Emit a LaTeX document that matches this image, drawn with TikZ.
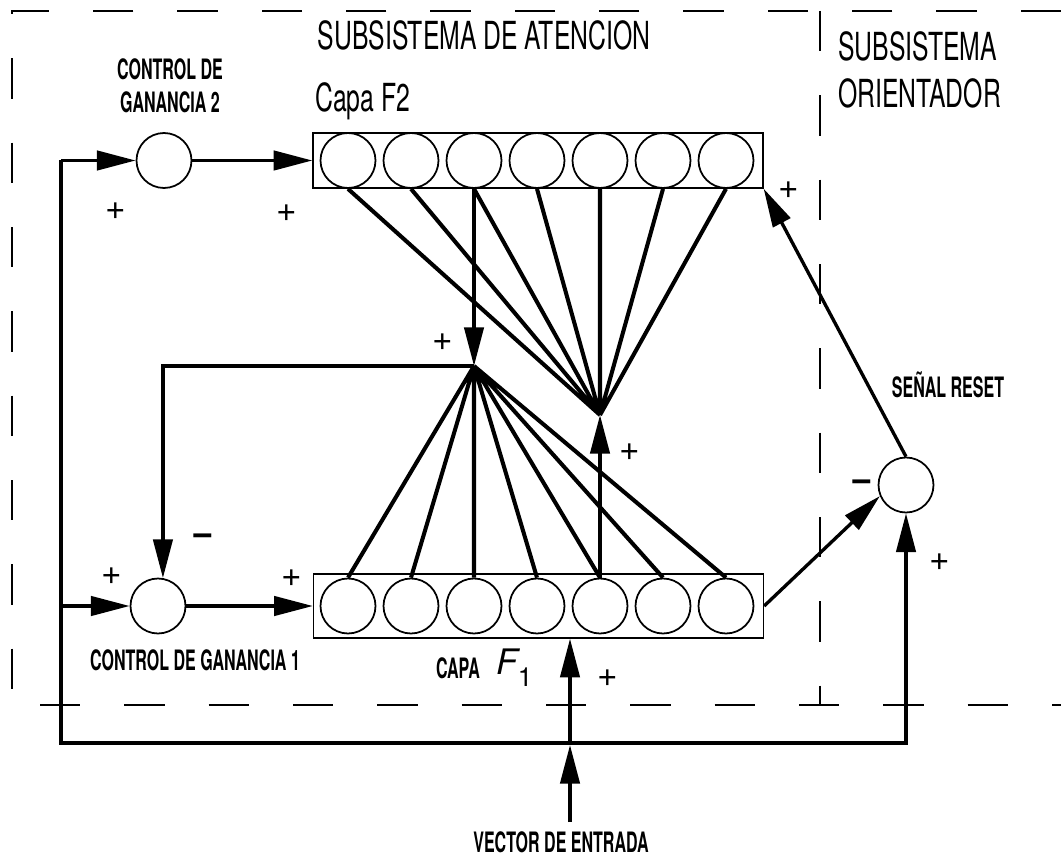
\documentclass[tikz,border=0pt]{standalone}
\usepackage{fontspec}
\usepackage{tikz}
\usetikzlibrary{shapes,arrows.meta,positioning,calc}

\newfontfamily\titlefont[FakeStretch=0.64]{TeX Gyre Heros}
\newfontfamily\labelfont[FakeStretch=0.57]{TeX Gyre Heros}
\newfontfamily\herosfont{TeX Gyre Heros}

\begin{document}
\begin{tikzpicture}[
  x=0.02cm, y=-0.02cm,
  neuron/.style={
    draw, circle, line width=1pt, minimum size=1.1cm, inner sep=0pt
  },
  layer/.style={
    draw, rectangle, line width=0.8pt, minimum width=9cm, inner sep=0pt
  },
  sumnode/.style={draw, circle, line width=1pt, minimum size=1.1cm, inner sep=0pt},
  arrow/.style={-{Triangle[length=22pt,width=11pt]}, line width=1.9pt},
  fan/.style={line width=2.3pt},
  border/.style={line width=1.2pt, dash pattern=on 23pt off 25pt},
  sign/.style={font=\herosfont\fontsize{20}{20}\selectfont, inner sep=0pt},
  minus/.style={font=\herosfont\bfseries\fontsize{22}{22}\selectfont, inner sep=0pt},
  title/.style={font=\titlefont\fontsize{22}{27}\selectfont, inner sep=0pt, align=left},
  tag/.style={font=\labelfont\bfseries\fontsize{16}{18.7}\selectfont, inner sep=0pt, align=center}
]

\useasboundingbox (0,0) rectangle (1061,858);

% Dashed borders of the two subsystems
\draw[border] (1061,11) -- (12,11) -- (12,705) -- (1061,705);
\draw[border] (820,11) -- (820,705);

% Titles
\node[title, anchor=base] (attn) at (484,50) {SUBSISTEMA DE ATENCION};
\node[title, anchor=base west] (capaf2) at (315,112) {Capa F2};
\node[title, anchor=north west] (orient) at (838,31) {SUBSISTEMA\\ORIENTADOR};

% Layer F2
\node[layer, minimum height=1.1cm] (f2box) at (538,160.5) {};
\node[neuron] (f2n1) at (348,160.5) {};
\node[neuron] (f2n2) at (411,160.5) {};
\node[neuron] (f2n3) at (474,160.5) {};
\node[neuron] (f2n4) at (537,160.5) {};
\node[neuron] (f2n5) at (600,160.5) {};
\node[neuron] (f2n6) at (663,160.5) {};
\node[neuron] (f2n7) at (726,160.5) {};

% Layer F1
\node[layer, minimum height=1.28cm] (f1box) at (538.5,606) {};
\node[neuron] (f1n1) at (348,606) {};
\node[neuron] (f1n2) at (411,606) {};
\node[neuron] (f1n3) at (474,606) {};
\node[neuron] (f1n4) at (537,606) {};
\node[neuron] (f1n5) at (600,606) {};
\node[neuron] (f1n6) at (663,606) {};
\node[neuron] (f1n7) at (726,606) {};

% Gain controls and reset
\node[sumnode] (gain2) at (164,160.5) {};
\node[sumnode] (gain1) at (158,606) {};
\node[sumnode] (reset) at (906,485) {};

\node[tag, anchor=north] (g2label) at (170,58) {CONTROL DE\\GANANCIA 2};
\node[tag, anchor=base] (g1label) at (195,670) {CONTROL DE GANANCIA 1};
\node[tag, anchor=base] (resetlabel) at (948,397) {SEÑAL RESET};
\node[tag, anchor=base] (capa) at (458,678) {CAPA};
\node[anchor=base west, inner sep=0pt] (f1label) at (496,674)
  {\herosfont\itshape\fontsize{20}{20}\selectfont F\raisebox{-7pt}{\upshape\fontsize{15}{15}\selectfont 1}};
\node[tag, anchor=base] (inlabel) at (561,852) {VECTOR DE ENTRADA};

% Junction points
\coordinate (topdown) at (474,366);
\coordinate (bottomup) at (600,415);
\coordinate (feedtop) at (61,160.5);
\coordinate (feedmid) at (61,606);
\coordinate (feedbot) at (61,743);
\coordinate (inputend) at (570,822);
\coordinate (inputcross) at (570,745);

% Gain paths
\draw[arrow] (feedtop) -- (gain2);
\draw[arrow] (gain2) -- (f2box.west);
\draw[arrow] (feedmid) -- (gain1);
\draw[arrow] (gain1) -- (f1box.west);
\draw[arrow] (feedtop) -- (feedbot) -| (reset.south);

% Input vector
\draw[arrow] (inputend) -- (inputcross);
\draw[arrow] (inputcross) -- (inputcross |- f1box.south);

% Top-down expectation F2 -> F1
\draw[arrow] (f2n3.south) -- (topdown);
\draw[arrow] (topdown) -| (gain1.80);
\draw[fan] (topdown) -- (f1n1.north) (topdown) -- (f1n2.north)
  (topdown) -- (f1n3.north) (topdown) -- (f1n4.north)
  (topdown) -- (f1n5.north) (topdown) -- (f1n6.north)
  (topdown) -- (f1n7.north);

% Bottom-up F1 -> F2
\draw[arrow] (f1n5.north) -- (bottomup);
\draw[fan] (bottomup) -- (f2n1.south) (bottomup) -- (f2n2.south)
  (bottomup) -- (f2n3.south) (bottomup) -- (f2n4.south)
  (bottomup) -- (f2n5.south) (bottomup) -- (f2n6.south)
  (bottomup) -- (f2n7.south);

% Reset loop
\draw[arrow] (f1box.east) -- (reset.203);
\draw[arrow] (reset.north) -- (f2box.south east);

% Signs
\node[sign] (pgain2) at (116,211) {+};
\node[sign] (pf2in) at (287,213) {+};
\node[sign] (pf2out) at (789,190) {+};
\node[sign] (ptopdown) at (443,342) {+};
\node[sign] (pbottomup) at (630,452) {+};
\node[sign] (pgain1) at (112,576) {+};
\node[minus] (mgain1) at (203,540) {−};
\node[sign] (pf1in) at (292,578) {+};
\node[minus] (mreset) at (862,486) {−};
\node[sign] (preset) at (940,562) {+};
\node[sign] (pinput) at (608,678) {+};

\end{tikzpicture}
\end{document}
